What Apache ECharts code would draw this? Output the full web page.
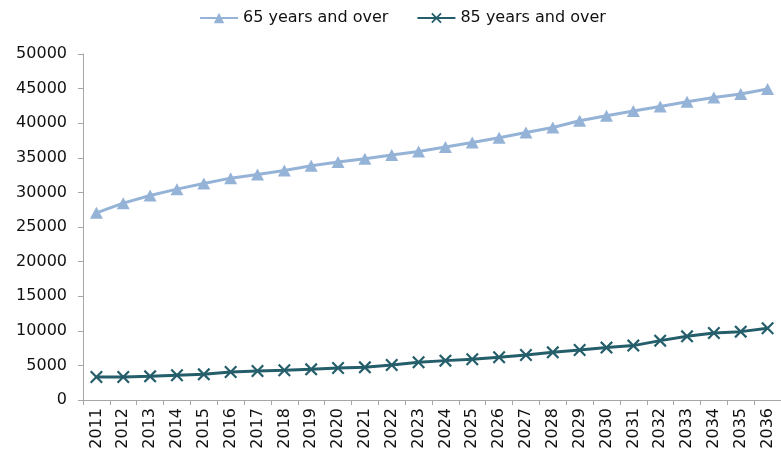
<!DOCTYPE html>
<html>
<head>
<meta charset="utf-8">
<script src="https://cdn.jsdelivr.net/npm/echarts@6/dist/echarts.min.js"></script>
<style>
  html, body { margin: 0; padding: 0; background: #fff; }
  #chart { width: 781px; height: 456px; }
</style>
</head>
<body>
<div id="chart"></div>
<script>
// Projected population by age group, 2011-2036
const years = ['2011','2012','2013','2014','2015','2016','2017','2018','2019','2020',
  '2021','2022','2023','2024','2025','2026','2027','2028','2029','2030',
  '2031','2032','2033','2034','2035','2036'];

const over65 = [27050, 28450, 29550, 30470, 31290, 32060, 32590, 33170, 33860, 34380,
  34860, 35390, 35910, 36550, 37220, 37890, 38650, 39390, 40350, 41080,
  41750, 42420, 43100, 43720, 44210, 44940];

const over85 = [3330, 3330, 3420, 3570, 3710, 4050, 4190, 4290, 4430, 4630,
  4720, 5060, 5450, 5690, 5880, 6170, 6510, 6890, 7230, 7570,
  7860, 8580, 9200, 9690, 9880, 10370];

const seriesNames = ['65 years and over', '85 years and over'];
const yTicks = { min: 0, max: 50000, interval: 5000 };

const FONT = 'DejaVu Sans';
const TEXT = '#111111';
const AXIS_GRAY = '#A6A6A6';
const crossPath = 'path://M0,1.2L1.2,0L5,3.8L8.8,0L10,1.2L6.2,5L10,8.8L8.8,10L5,6.2L1.2,10L0,8.8L3.8,5Z';

const chart = echarts.init(document.getElementById('chart'), null, { renderer: 'canvas' });
chart.setOption({
  animation: false,
  backgroundColor: '#ffffff',
  textStyle: { fontFamily: FONT },
  legend: {
    left: 194,
    top: 5,
    itemWidth: 38,
    itemHeight: 13,
    itemGap: 28,
    textStyle: { fontFamily: FONT, fontSize: 16, color: TEXT },
    data: seriesNames
  },
  grid: { left: 83, top: 54, width: 702, height: 346, containLabel: false },
  xAxis: {
    type: 'category',
    data: years,
    boundaryGap: true,
    axisLine: { lineStyle: { color: AXIS_GRAY, width: 1 } },
    axisTick: { show: true, length: 5, lineStyle: { color: AXIS_GRAY }, alignWithLabel: false },
    axisLabel: { rotate: 90, interval: 0, margin: 8, fontFamily: FONT, fontSize: 16, color: TEXT },
    splitLine: { show: false }
  },
  yAxis: {
    type: 'value',
    min: yTicks.min,
    max: yTicks.max,
    interval: yTicks.interval,
    axisLine: { show: true, lineStyle: { color: AXIS_GRAY, width: 1 } },
    axisTick: { show: true, length: 5, lineStyle: { color: AXIS_GRAY } },
    axisLabel: {
      margin: 16,
      fontFamily: FONT,
      fontSize: 16,
      color: TEXT,
      formatter: function (v) { return String(v); }
    },
    splitLine: { show: false }
  },
  series: [
    {
      name: seriesNames[0],
      type: 'line',
      data: over65,
      symbol: 'triangle',
      symbolSize: [13, 12],
      lineStyle: { color: '#95B3D7', width: 3 },
      itemStyle: { color: '#95B3D7' }
    },
    {
      name: seriesNames[1],
      type: 'line',
      data: over85,
      symbol: crossPath,
      symbolSize: 13,
      lineStyle: { color: '#255E6B', width: 3 },
      itemStyle: { color: '#255E6B' }
    }
  ]
});
</script>
</body>
</html>
